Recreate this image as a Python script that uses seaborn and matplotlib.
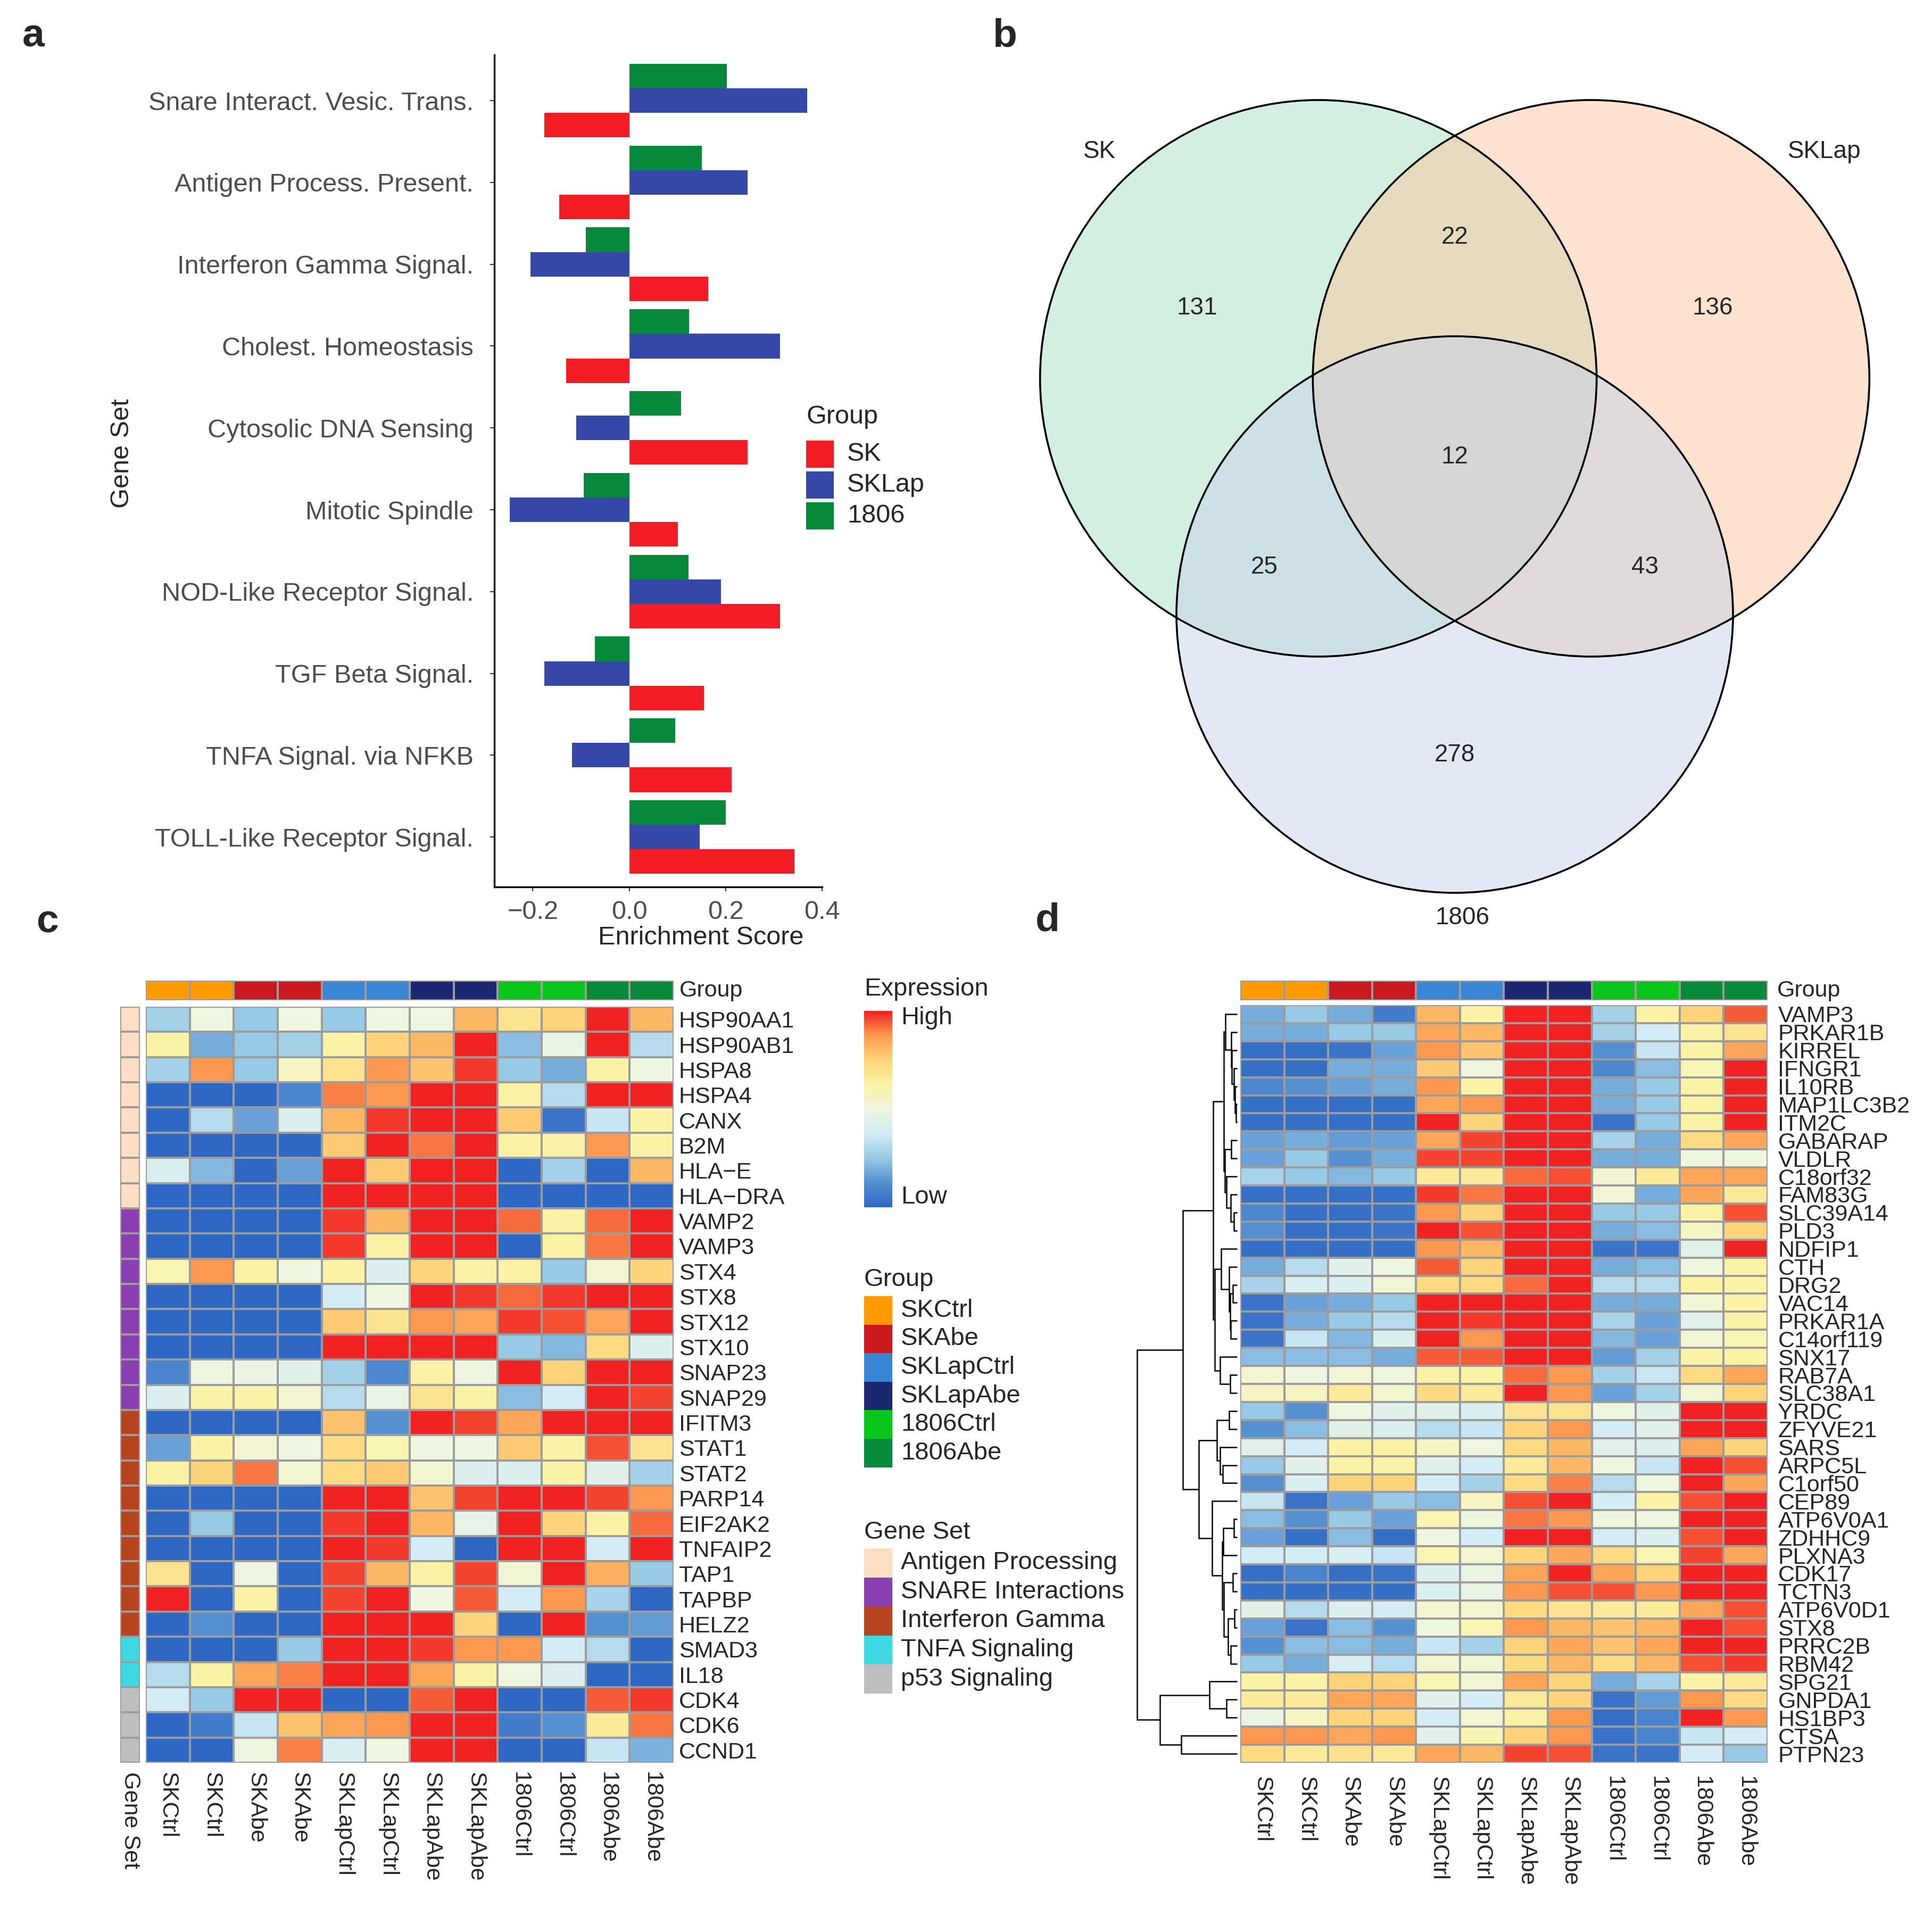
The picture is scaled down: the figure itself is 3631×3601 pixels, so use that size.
import numpy as np
import pandas as pd
import seaborn as sns
import matplotlib.pyplot as plt
from matplotlib.colors import LinearSegmentedColormap, ListedColormap
from matplotlib.patches import Circle, Rectangle

# ---------------- data ----------------
# panel a: enrichment scores
gene_sets_a = ["Snare Interact. Vesic. Trans.", "Antigen Process. Present.",
               "Interferon Gamma Signal.", "Cholest. Homeostasis",
               "Cytosolic DNA Sensing", "Mitotic Spindle",
               "NOD-Like Receptor Signal.", "TGF Beta Signal.",
               "TNFA Signal. via NFKB", "TOLL-Like Receptor Signal."]
score_sk = [-0.176, -0.145, 0.164, -0.131, 0.245, 0.101, 0.313, 0.155, 0.212, 0.343]
score_sklap = [0.369, 0.245, -0.205, 0.313, -0.110, -0.248, 0.190, -0.176, -0.119, 0.146]
score_1806 = [0.202, 0.150, -0.090, 0.124, 0.107, -0.094, 0.123, -0.071, 0.095, 0.200]

# panel b: venn counts
venn_sets = ["SK", "SKLap", "1806"]
venn_only = [131, 136, 278]              # SK, SKLap, 1806
venn_pairs = [22, 25, 43]                # SK&SKLap, SK&1806, SKLap&1806
venn_all = 12

# heatmap columns
samples = ["SKCtrl", "SKCtrl", "SKAbe", "SKAbe", "SKLapCtrl", "SKLapCtrl",
           "SKLapAbe", "SKLapAbe", "1806Ctrl", "1806Ctrl", "1806Abe", "1806Abe"]
group_levels = ["SKCtrl", "SKAbe", "SKLapCtrl", "SKLapAbe", "1806Ctrl", "1806Abe"]

# panel c (1 = low ... 9 = high)
genes_c = ["HSP90AA1", "HSP90AB1", "HSPA8", "HSPA4", "CANX", "B2M", "HLA\u2212E", "HLA\u2212DRA",
           "VAMP2", "VAMP3", "STX4", "STX8", "STX12", "STX10", "SNAP23", "SNAP29",
           "IFITM3", "STAT1", "STAT2", "PARP14", "EIF2AK2", "TNFAIP2", "TAP1", "TAPBP", "HELZ2",
           "SMAD3", "IL18", "CDK4", "CDK6", "CCND1"]
gene_set_levels = ["Antigen Processing", "SNARE Interactions", "Interferon Gamma",
                   "TNFA Signaling", "p53 Signaling"]
gene_set_c = (["Antigen Processing"] * 8 + ["SNARE Interactions"] * 8 +
              ["Interferon Gamma"] * 9 + ["TNFA Signaling"] * 2 + ["p53 Signaling"] * 3)
expr_c = [
    [3.2, 5.0, 3.0, 5.0, 3.0, 5.0, 5.0, 7.5, 6.5, 7.0, 9.0, 7.5],
    [6.0, 2.5, 3.0, 3.2, 6.0, 7.0, 7.5, 9.0, 2.8, 4.8, 9.0, 3.5],
    [3.2, 8.0, 3.0, 5.5, 6.5, 8.0, 7.3, 8.8, 3.0, 2.5, 6.0, 5.0],
    [1.0, 1.0, 1.0, 1.7, 8.2, 8.0, 9.0, 9.0, 6.0, 3.5, 9.0, 9.0],
    [1.0, 3.5, 2.3, 4.3, 7.5, 8.8, 9.0, 9.0, 7.2, 1.3, 3.8, 6.0],
    [1.0, 1.0, 1.0, 1.0, 7.2, 9.0, 8.3, 9.0, 6.0, 6.0, 8.0, 6.0],
    [4.2, 2.7, 1.0, 2.3, 9.0, 7.2, 9.0, 9.0, 1.0, 3.2, 1.0, 7.5],
    [1.0, 1.0, 1.0, 1.0, 9.0, 9.0, 9.0, 9.0, 1.0, 1.0, 1.0, 1.0],
    [1.0, 1.0, 1.0, 1.0, 8.8, 7.5, 9.0, 9.0, 8.4, 6.0, 8.4, 9.0],
    [1.0, 1.0, 1.0, 1.0, 8.8, 6.0, 9.0, 9.0, 1.0, 6.0, 8.3, 9.0],
    [5.8, 8.0, 6.0, 5.0, 6.0, 4.3, 7.0, 6.0, 6.0, 3.0, 5.3, 7.0],
    [1.0, 1.0, 1.0, 1.0, 4.0, 5.0, 9.0, 8.8, 8.4, 8.8, 9.0, 9.0],
    [1.0, 1.0, 1.0, 1.0, 7.2, 6.5, 8.0, 7.8, 8.8, 8.6, 7.8, 9.0],
    [1.0, 1.0, 1.0, 1.0, 9.0, 9.0, 9.0, 9.0, 3.0, 2.7, 6.8, 4.3],
    [1.7, 5.0, 4.8, 4.5, 3.2, 1.8, 6.0, 5.0, 9.0, 7.0, 9.0, 9.0],
    [4.3, 6.0, 6.0, 5.3, 3.5, 4.7, 6.5, 6.0, 2.8, 4.0, 9.0, 8.7],
    [1.0, 1.0, 1.0, 1.0, 7.3, 2.0, 9.0, 8.7, 7.8, 9.0, 9.0, 9.0],
    [2.3, 6.0, 5.2, 5.0, 6.8, 5.8, 5.0, 5.0, 7.2, 6.0, 8.6, 6.5],
    [6.0, 7.0, 8.3, 5.3, 6.8, 7.2, 5.3, 4.3, 4.3, 6.0, 4.5, 3.2],
    [1.0, 1.0, 1.0, 1.0, 9.0, 9.0, 7.3, 8.7, 9.0, 9.0, 8.7, 8.0],
    [1.0, 3.0, 1.0, 1.0, 8.8, 9.0, 7.5, 4.7, 9.0, 7.0, 6.0, 8.4],
    [1.0, 1.0, 1.0, 1.0, 9.0, 8.8, 4.0, 1.0, 9.0, 9.0, 4.0, 9.0],
    [6.5, 1.0, 5.0, 1.0, 8.7, 7.5, 6.0, 8.7, 5.2, 9.0, 7.6, 3.0],
    [9.0, 1.0, 6.0, 1.0, 8.7, 9.0, 5.0, 8.5, 4.0, 8.0, 3.3, 1.0],
    [1.0, 2.0, 1.0, 1.0, 9.0, 9.0, 9.0, 7.0, 1.0, 9.0, 2.0, 2.2],
    [1.0, 1.0, 1.0, 3.0, 9.0, 9.0, 8.8, 8.0, 8.0, 4.0, 3.5, 1.0],
    [3.5, 6.0, 7.8, 8.2, 9.0, 9.0, 7.8, 6.0, 5.0, 4.3, 1.0, 1.0],
    [4.0, 3.0, 9.0, 9.0, 1.0, 1.0, 8.5, 9.0, 1.0, 1.0, 8.5, 8.8],
    [1.0, 1.5, 3.8, 7.3, 7.8, 8.0, 9.0, 9.0, 1.5, 2.0, 6.3, 8.3],
    [1.0, 1.0, 5.0, 8.2, 4.2, 5.0, 9.0, 9.0, 1.0, 1.0, 3.8, 2.6],
]

# panel d
genes_d = ["VAMP3", "PRKAR1B", "KIRREL", "IFNGR1", "IL10RB", "MAP1LC3B2", "ITM2C", "GABARAP",
           "VLDLR", "C18orf32", "FAM83G", "SLC39A14", "PLD3", "NDFIP1", "CTH", "DRG2", "VAC14",
           "PRKAR1A", "C14orf119", "SNX17", "RAB7A", "SLC38A1", "YRDC", "ZFYVE21", "SARS",
           "ARPC5L", "C1orf50", "CEP89", "ATP6V0A1", "ZDHHC9", "PLXNA3", "CDK17", "TCTN3",
           "ATP6V0D1", "STX8", "PRRC2B", "RBM42", "SPG21", "GNPDA1", "HS1BP3", "CTSA", "PTPN23"]
expr_d = [
    [2.5, 3.0, 2.5, 1.5, 7.5, 6.0, 9.0, 9.0, 3.2, 6.0, 7.0, 8.5],
    [2.5, 2.5, 3.0, 3.0, 7.8, 7.5, 9.0, 9.0, 3.2, 4.0, 6.0, 6.5],
    [1.2, 1.2, 1.3, 2.3, 8.0, 7.3, 9.0, 9.0, 2.0, 3.8, 6.0, 7.8],
    [1.2, 1.2, 2.5, 2.5, 7.2, 5.0, 9.0, 9.0, 1.8, 2.8, 5.7, 9.0],
    [1.8, 2.0, 2.3, 2.5, 8.0, 6.0, 9.0, 9.0, 2.5, 3.0, 6.0, 9.0],
    [1.2, 1.2, 1.2, 1.2, 7.8, 8.0, 9.0, 9.0, 2.5, 3.0, 6.0, 9.0],
    [1.2, 1.2, 1.2, 1.2, 9.0, 7.0, 9.0, 9.0, 1.3, 3.0, 6.0, 9.0],
    [2.3, 2.5, 2.2, 2.3, 7.8, 8.7, 9.0, 9.0, 3.3, 2.5, 6.8, 7.8],
    [2.3, 3.0, 2.0, 2.5, 8.7, 8.7, 9.0, 9.0, 2.5, 2.5, 5.0, 5.0],
    [3.3, 3.0, 2.7, 3.0, 6.3, 6.3, 8.4, 8.6, 5.3, 6.3, 7.8, 7.8],
    [1.2, 1.2, 1.2, 1.2, 8.8, 8.3, 9.0, 9.0, 5.2, 2.5, 7.8, 6.3],
    [1.8, 1.2, 1.2, 1.3, 8.0, 7.0, 9.0, 9.0, 3.0, 3.0, 6.0, 8.6],
    [2.0, 1.2, 1.2, 1.3, 9.0, 8.6, 9.0, 9.0, 2.5, 2.8, 5.5, 7.0],
    [1.2, 1.2, 1.2, 1.2, 8.0, 7.5, 9.0, 9.0, 1.3, 1.3, 4.5, 9.0],
    [2.5, 3.5, 4.5, 5.0, 8.5, 7.0, 9.0, 9.0, 2.5, 2.8, 5.0, 6.0],
    [3.3, 4.2, 4.3, 5.2, 6.8, 6.8, 8.4, 9.0, 3.5, 3.5, 6.0, 6.0],
    [1.3, 2.3, 2.5, 3.0, 9.0, 9.0, 9.0, 9.0, 2.5, 2.5, 5.2, 6.0],
    [1.3, 2.5, 3.0, 3.5, 9.0, 8.8, 9.0, 9.0, 3.3, 2.3, 4.5, 6.0],
    [1.3, 3.8, 2.7, 4.3, 9.0, 8.0, 9.0, 9.0, 2.7, 2.3, 5.2, 5.8],
    [2.8, 2.8, 2.8, 2.5, 8.5, 8.5, 9.0, 9.0, 2.2, 3.2, 6.0, 6.0],
    [5.3, 5.0, 5.2, 5.0, 6.0, 6.0, 8.4, 8.0, 3.2, 3.8, 6.8, 7.8],
    [5.5, 5.5, 6.3, 5.3, 6.8, 6.3, 9.0, 8.0, 2.3, 3.2, 5.2, 7.0],
    [3.0, 2.0, 5.0, 4.5, 4.5, 4.3, 6.5, 6.5, 5.0, 4.5, 9.0, 9.0],
    [2.0, 2.8, 4.5, 4.3, 3.5, 3.8, 7.0, 8.0, 4.0, 4.5, 9.0, 9.0],
    [4.5, 4.0, 6.0, 6.0, 5.5, 5.0, 6.8, 7.5, 4.5, 4.3, 7.8, 7.0],
    [3.0, 4.5, 6.0, 6.0, 4.5, 4.0, 6.3, 7.5, 5.0, 3.8, 9.0, 8.6],
    [2.0, 4.2, 7.0, 7.0, 4.0, 3.2, 6.8, 8.2, 3.5, 5.0, 9.0, 7.8],
    [3.8, 1.3, 2.3, 3.0, 2.8, 5.5, 8.6, 9.0, 4.0, 6.0, 8.6, 9.0],
    [2.8, 2.0, 3.0, 2.3, 5.8, 5.0, 8.3, 8.0, 5.0, 5.0, 9.0, 9.0],
    [2.3, 1.2, 2.8, 1.2, 5.0, 4.0, 9.0, 9.0, 4.0, 4.3, 8.6, 9.0],
    [4.0, 4.0, 4.2, 3.8, 5.8, 5.3, 7.0, 7.8, 6.8, 5.8, 8.7, 7.8],
    [1.2, 1.7, 1.2, 1.3, 4.3, 4.8, 7.8, 9.0, 7.8, 7.0, 9.0, 9.0],
    [1.2, 1.2, 1.2, 1.2, 4.3, 4.8, 8.0, 8.6, 8.6, 8.0, 9.0, 9.0],
    [4.5, 3.5, 4.3, 4.0, 5.3, 5.3, 6.8, 6.5, 6.3, 6.3, 7.8, 8.6],
    [2.3, 1.3, 2.8, 2.0, 5.0, 5.8, 8.0, 7.5, 7.3, 7.5, 9.0, 8.6],
    [2.0, 2.8, 2.8, 2.5, 3.8, 3.2, 7.0, 7.8, 7.3, 7.8, 9.0, 9.0],
    [3.0, 2.5, 4.2, 3.5, 5.2, 5.2, 6.8, 7.5, 6.8, 7.5, 8.6, 8.8],
    [6.0, 6.0, 7.0, 7.0, 5.8, 5.2, 7.8, 7.0, 2.5, 3.3, 6.0, 6.3],
    [6.3, 6.3, 7.8, 7.8, 4.5, 4.0, 6.3, 7.0, 1.3, 2.2, 8.0, 6.8],
    [4.8, 5.5, 7.0, 7.0, 4.0, 5.2, 6.0, 8.0, 1.2, 1.7, 9.0, 8.0],
    [8.0, 8.0, 7.8, 8.0, 4.5, 5.8, 7.0, 8.0, 1.3, 1.7, 3.8, 4.0],
    [6.8, 6.3, 6.5, 6.3, 7.8, 7.5, 8.7, 8.6, 1.3, 1.3, 4.0, 3.0],
]
# row dendrogram of panel d: (height, left, right), leaves are row indices
tree_d = (1.0,
          (0.54,
           (0.239,
            (0.133,
             (0.115, 0, (0.057, 1, (0.053, 2, (0.03, 3, (0.02, 4, (0.01, 5, 6)))))),
             (0.124, (0.057, 7, 8), (0.106, 9, (0.062, 10, (0.03, 11, 12))))),
            (0.221,
             (0.159, 13, (0.08, 14, (0.071, (0.044, 15, 16), (0.062, 17, 18)))),
             (0.168, 19, (0.071, 20, 21)))),
           (0.381,
            (0.204, (0.08, 22, 23), (0.168, 24, (0.142, 25, 26))),
            (0.248, 27, (0.15, (0.14, (0.032, 28, 29), 30),
                         (0.133, (0.044, 31, 32),
                          (0.088, (0.027, 33, 34), (0.062, 35, 36))))))),
          (0.773, (0.274, 37, (0.106, 38, 39)), (0.558, 40, 41)))

# ---------------- styles ----------------
bar_colors = {"SK": "#F41C24", "SKLap": "#3548A8", "1806": "#07893B"}
venn_colors = ["#A7E1C1", "#FBC7A1", "#C7D3EB"]
group_colors = ["#FF9A00", "#CB1A1F", "#3A86D6", "#1C2772", "#08C61A", "#078A3A"]
set_colors = ["#FEDFC3", "#8A3FB0", "#B5441F", "#3DD8E0", "#BEBEBE"]
expr_cmap = LinearSegmentedColormap.from_list("expr", [
    "#2F68C4", "#5590D1", "#98C9E5", "#D3ECF5", "#EFF6E0",
    "#FAF3A6", "#FDD57B", "#FC9B51", "#F02222"])
grid_col = "#9C9C9C"

W, H = 3631, 3601


def box(x0, y0, x1, y1):
    return [x0 / W, 1 - y1 / H, (x1 - x0) / W, (y1 - y0) / H]


sns.set_style("white")
plt.rcParams["font.family"] = ["Liberation Sans", "DejaVu Sans"]

fig = plt.figure(figsize=(W / 100, H / 100), dpi=100)


def key(title, labels, colors, x, y_title, y_top, step, size, text_x, fs):
    # simple colour key: title, then stacked swatches with labels
    fig.text(x / W, 1 - y_title / H, title, fontsize=fs, va="center", ha="left")
    for i, (lab, col) in enumerate(zip(labels, colors)):
        y0 = y_top + i * step
        fig.add_artist(Rectangle((x / W, 1 - (y0 + size[1]) / H), size[0] / W, size[1] / H,
                                 transform=fig.transFigure, color=col, lw=0))
        fig.text(text_x / W, 1 - (y0 + size[1] / 2) / H, lab, fontsize=fs,
                 va="center", ha="left")


# ---------------- panel a ----------------
ax = fig.add_axes(box(929, 103, 1545, 1667))
df_a = pd.DataFrame({
    "Gene Set": gene_sets_a * 3,
    "Score": score_sk + score_sklap + score_1806,
    "Group": ["SK"] * 10 + ["SKLap"] * 10 + ["1806"] * 10,
})
sns.barplot(data=df_a, x="Score", y="Gene Set", hue="Group", order=gene_sets_a,
            hue_order=["1806", "SKLap", "SK"], palette=bar_colors, orient="h",
            width=0.9, saturation=1, errorbar=None, linewidth=0, legend=False, ax=ax)
ax.set_xlim(-0.28, 0.40)
ax.set_ylim(9.61, -0.56)
ax.set_xticks([-0.2, 0.0, 0.2, 0.4])
sns.despine(ax=ax)
for s in ["left", "bottom"]:
    ax.spines[s].set_linewidth(2.4)
    ax.spines[s].set_color("black")
ax.tick_params(axis="both", length=6, width=1.5, color="#333333", labelsize=35,
               labelcolor="#4D4D4D", left=True, bottom=True)
ax.tick_params(axis="y", pad=22)
ax.tick_params(axis="x", pad=12)
ax.set_xlabel("Enrichment Score", fontsize=35)
ax.set_ylabel("Gene Set", fontsize=35)
ax.xaxis.set_label_coords((1317 - 929) / 616, -(1740 - 1667) / 1564)
ax.yaxis.set_label_coords((252 - 929) / 616, (1667 - 852) / 1564)
key("Group", ["SK", "SKLap", "1806"], [bar_colors[g] for g in ["SK", "SKLap", "1806"]],
    1515, 783, 828, 58, (52, 51), 1592, 35)

# ---------------- panel b ----------------
axv = fig.add_axes(box(1800, 0, 3631, 1800))
axv.set_xlim(1800, 3631)
axv.set_ylim(1800, 0)
axv.axis("off")
cx, cy, r, d = 2734, 859, 523, 296
angles = np.deg2rad([210, 330, 90])
dirs = np.c_[np.cos(angles), np.sin(angles)]
centers = np.array([cx, cy]) + d * dirs
for (x, y), col in zip(centers, venn_colors):
    axv.add_patch(Circle((x, y), r, facecolor=col, edgecolor="none", alpha=0.5))
for x, y in centers:
    axv.add_patch(Circle((x, y), r, facecolor="none", edgecolor="black", lw=2.6))
for i, n in enumerate(venn_only):
    p = np.array([cx, cy]) + 1.07 * r * dirs[i]
    axv.text(p[0], p[1], str(n), ha="center", va="center", fontsize=33)
for k, n in zip([2, 1, 0], venn_pairs):
    p = np.array([cx, cy]) - 0.79 * r * dirs[k]
    axv.text(p[0], p[1], str(n), ha="center", va="center", fontsize=33)
axv.text(cx, cy, str(venn_all), ha="center", va="center", fontsize=33)
name_offsets = [(-1.277, -1.097), (1.329, -1.097), (0.027, 1.656)]
for name, (ox, oy) in zip(venn_sets, name_offsets):
    axv.text(cx + ox * r, cy + oy * r, name, ha="center", va="center", fontsize=33)

# ---------------- helpers for heatmaps ----------------
group_codes = np.array([[group_levels.index(s) for s in samples]])
group_cmap = ListedColormap(group_colors)


def group_bar(x0, x1, label_x):
    axg = fig.add_axes(box(x0, 1843, x1, 1880))
    sns.heatmap(group_codes, ax=axg, cmap=group_cmap, vmin=-0.5, vmax=5.5, cbar=False,
                linewidths=1.6, linecolor=grid_col, xticklabels=False, yticklabels=False)
    fig.text(label_x / W, 1 - 1862 / H, "Group", fontsize=31, va="center", ha="left")


def expr_heatmap(rect, data, rows, ypad, xpad):
    axh = fig.add_axes(rect)
    df = pd.DataFrame(data, index=rows)
    sns.heatmap(df, ax=axh, cmap=expr_cmap, vmin=1, vmax=9, cbar=False,
                linewidths=1.6, linecolor=grid_col, xticklabels=samples, yticklabels=rows)
    axh.yaxis.tick_right()
    axh.set_yticklabels(rows, rotation=0, fontsize=31)
    axh.set_xticklabels(samples, rotation=-90, fontsize=31, va="top", ha="center")
    axh.tick_params(axis="y", length=0, pad=ypad)
    axh.tick_params(axis="x", length=0, pad=xpad)
    axh.set_xlabel("")
    axh.set_ylabel("")
    return axh


# ---------------- panel c ----------------
group_bar(274, 1266, 1277)
expr_heatmap(box(274, 1892, 1266, 3313), expr_c, genes_c, 7, 12)
axs = fig.add_axes(box(226, 1892, 263, 3313))
set_codes = np.array([[gene_set_levels.index(s)] for s in gene_set_c])
sns.heatmap(set_codes, ax=axs, cmap=ListedColormap(set_colors), vmin=-0.5, vmax=4.5,
            cbar=False, linewidths=1.6, linecolor=grid_col,
            xticklabels=["Gene Set"], yticklabels=False)
axs.set_xticklabels(["Gene Set"], rotation=-90, fontsize=31, va="top", ha="center")
axs.tick_params(axis="x", length=0, pad=12)

# ---------------- middle legends ----------------
fig.text(1624 / W, 1 - 1859 / H, "Expression", fontsize=34, va="center", ha="left")
cax = fig.add_axes(box(1624, 1900, 1677, 2269))
cax.imshow(np.linspace(9, 1, 256)[:, None], aspect="auto", cmap=expr_cmap, vmin=1, vmax=9)
cax.axis("off")
fig.text(1693 / W, 1 - 1913 / H, "High", fontsize=34, va="center", ha="left")
fig.text(1693 / W, 1 - 2250 / H, "Low", fontsize=34, va="center", ha="left")
key("Group", group_levels, group_colors, 1624, 2405, 2436, 53.6, (53, 53.6), 1693, 34)
key("Gene Set", gene_set_levels, set_colors, 1624, 2880, 2910, 54.6, (53, 54.6), 1693, 34)

# ---------------- panel d ----------------
group_bar(2331, 3322, 3340)
expr_heatmap(box(2331, 1889, 3322, 3313), expr_d, genes_d, 14, 18)

axd = fig.add_axes(box(2130, 1889, 2328, 3313))
axd.set_xlim((2325 - 2130) / 188, (2325 - 2328) / 188)
axd.set_ylim(len(genes_d), 0)
axd.axis("off")


def draw_tree(node):
    if isinstance(node, int):
        return node + 0.5, 0.0
    h, left, right = node
    yl, hl = draw_tree(left)
    yr, hr = draw_tree(right)
    axd.plot([hl, h, h, hr], [yl, yl, yr, yr], color="black", lw=1.8,
             solid_joinstyle="miter", solid_capstyle="butt")
    return (yl + yr) / 2, h


draw_tree(tree_d)

# ---------------- panel letters ----------------
for letter, (x, y) in zip("abcd", [(63, 68), (1888, 68), (89, 1733), (1969, 1730)]):
    fig.text(x / W, 1 - y / H, letter, fontsize=54, fontweight="bold", ha="center", va="center")

fig.savefig("out.png", dpi=100)
